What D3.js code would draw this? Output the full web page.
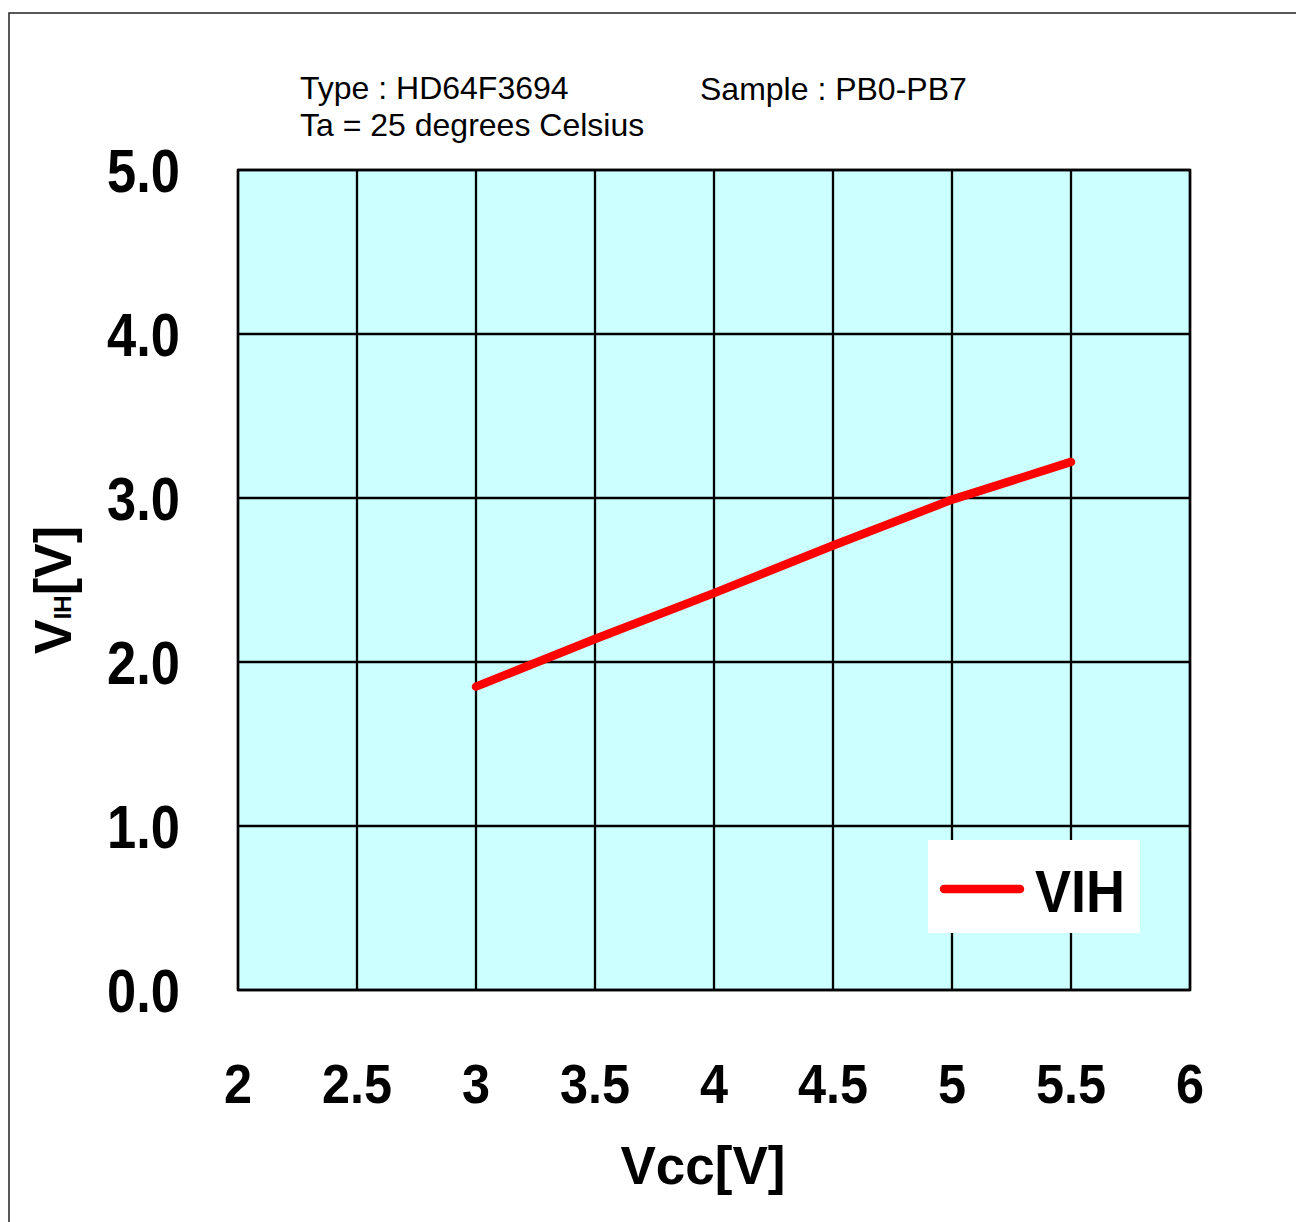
<!DOCTYPE html>
<html>
<head>
<meta charset="utf-8">
<script src="https://cdn.jsdelivr.net/npm/d3@7"></script>
<style>
  body { margin: 0; background: #fff; }
  text { font-family: "Liberation Sans", Arial, sans-serif; }
</style>
</head>
<body>
<div class="chart"></div>
<script>
// data
var vcc = [3, 3.5, 4, 4.5, 5, 5.5];
var vih = [1.85, 2.14, 2.42, 2.71, 2.99, 3.22];
var xTicks = [2, 2.5, 3, 3.5, 4, 4.5, 5, 5.5, 6];
var yTicks = [0, 1, 2, 3, 4, 5];
var headerLines = ["Type : HD64F3694", "Ta = 25 degrees Celsius"];
var sampleText = "Sample : PB0-PB7";
var legendName = "VIH";

(function() {
var w = 1296, h = 1222;
var pLeft = 238, pRight = 1190, pTop = 170, pBottom = 990;

var svg = d3.select(".chart").append("svg")
            .attr("width", w)
            .attr("height", h);

// outer frame, runs off the right and bottom edges
svg.append("rect")
   .attr("x", 9).attr("y", 13)
   .attr("width", 1400).attr("height", 1400)
   .attr("fill", "none")
   .attr("stroke", "#222")
   .attr("stroke-width", 1.5);

var x = d3.scaleLinear().domain([2, 6]).range([pLeft, pRight]);
var y = d3.scaleLinear().domain([0, 5]).range([pBottom, pTop]);

svg.append("rect")
   .attr("x", pLeft).attr("y", pTop)
   .attr("width", pRight - pLeft).attr("height", pBottom - pTop)
   .attr("fill", "#ccffff");

// grid
svg.append("g").selectAll("line").data(xTicks).enter().append("line")
   .attr("x1", function(d){ return x(d); }).attr("x2", function(d){ return x(d); })
   .attr("y1", pTop).attr("y2", pBottom)
   .attr("stroke", "#000").attr("stroke-width", 2.3);
svg.append("g").selectAll("line").data(yTicks).enter().append("line")
   .attr("x1", pLeft).attr("x2", pRight)
   .attr("y1", function(d){ return y(d); }).attr("y2", function(d){ return y(d); })
   .attr("stroke", "#000").attr("stroke-width", 2.3);

svg.append("rect")
   .attr("x", pLeft).attr("y", pTop)
   .attr("width", pRight - pLeft).attr("height", pBottom - pTop)
   .attr("fill", "none")
   .attr("stroke", "#000").attr("stroke-width", 2.5);

// tick labels, squeezed sideways like the narrow face of the original
svg.append("g").selectAll("text").data(yTicks).enter().append("text")
   .attr("transform", function(d){ return "translate(180," + (y(d) + 22) + ") scale(0.86,1)"; })
   .attr("text-anchor", "end")
   .attr("font-size", 61).attr("font-weight", "bold")
   .text(function(d){ return d.toFixed(1); });

svg.append("g").selectAll("text").data(xTicks).enter().append("text")
   .attr("transform", function(d){ return "translate(" + x(d) + ",1103) scale(0.9,1)"; })
   .attr("text-anchor", "middle")
   .attr("font-size", 56).attr("font-weight", "bold")
   .text(function(d){ return d; });

// axis titles
svg.append("text")
   .attr("x", 703).attr("y", 1184)
   .attr("text-anchor", "middle")
   .attr("font-size", 53).attr("font-weight", "bold")
   .text("Vcc[V]");

var yl = svg.append("text")
   .attr("transform", "translate(71,590) rotate(-90)")
   .attr("text-anchor", "middle")
   .attr("font-size", 52).attr("font-weight", "bold");
yl.append("tspan").text("V");
yl.append("tspan").attr("font-size", 24).text("IH");
yl.append("tspan").text("[V]");

// header
svg.append("g").selectAll("text").data(headerLines).enter().append("text")
   .attr("x", 300)
   .attr("y", function(d, i){ return 99 + i * 37; })
   .attr("font-size", 32)
   .text(function(d){ return d; });
svg.append("text")
   .attr("x", 700).attr("y", 100)
   .attr("font-size", 32)
   .text(sampleText);

// the curve
var line = d3.line()
             .x(function(d, i){ return x(vcc[i]); })
             .y(function(d){ return y(d); });
svg.append("path")
   .datum(vih)
   .attr("d", line)
   .attr("fill", "none")
   .attr("stroke", "#ff0000")
   .attr("stroke-width", 8.5)
   .attr("stroke-linecap", "round")
   .attr("stroke-linejoin", "round");

// legend
svg.append("rect")
   .attr("x", 928).attr("y", 840)
   .attr("width", 212).attr("height", 93)
   .attr("fill", "#fff");
svg.append("line")
   .attr("x1", 944).attr("x2", 1020)
   .attr("y1", 889).attr("y2", 889)
   .attr("stroke", "#ff0000").attr("stroke-width", 8.5)
   .attr("stroke-linecap", "round");
svg.append("text")
   .attr("transform", "translate(1035,912) scale(0.9,1)")
   .attr("font-size", 60).attr("font-weight", "bold")
   .text(legendName);
})();
</script>
</body>
</html>
